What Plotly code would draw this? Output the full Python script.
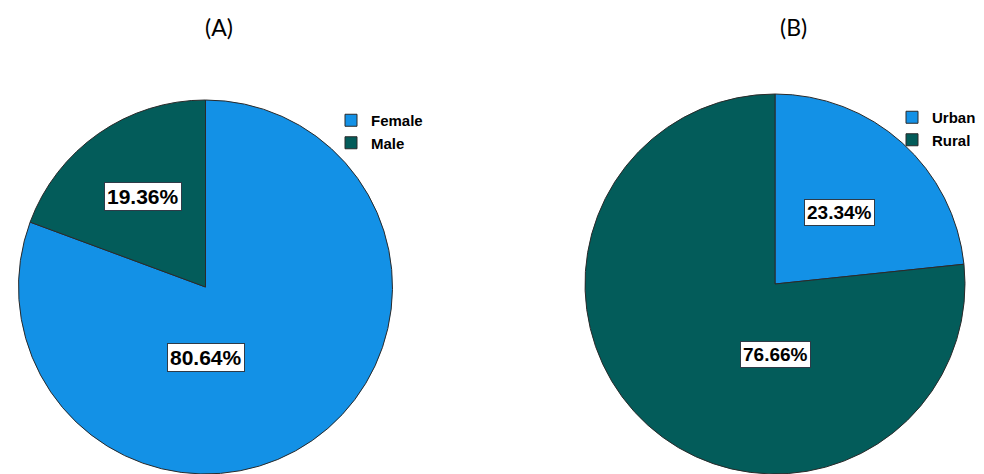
import math
import plotly.graph_objects as go

# ---- data ----
gender_labels = ["Female", "Male"]
gender_values = [80.64, 19.36]
area_labels = ["Urban", "Rural"]
area_values = [23.34, 76.66]
panel_titles = ["(A)", "(B)"]

BLUE = "#1391E6"
TEAL = "#035C5A"
W, H = 984, 474

# pie geometry (pixels)
D = 380
cA = (205.5, 287.0)
cB = (775.0, 284.0)


def dom(c):
    x0 = (c[0] - D / 2) / W
    x1 = (c[0] + D / 2) / W
    yb = H - c[1]
    y0 = max(0.0, (yb - D / 2) / H)
    y1 = (yb + D / 2) / H
    if y0 == 0.0:
        y1 = (2 * yb) / H
    return dict(x=[x0, x1], y=[y0, y1])


fig = go.Figure()
fig.add_trace(go.Pie(
    labels=gender_labels, values=gender_values, sort=False, direction="clockwise",
    rotation=0, marker=dict(colors=[BLUE, TEAL], line=dict(color="#2a2a2a", width=1)),
    textinfo="none", hoverinfo="label+percent", domain=dom(cA), legend="legend",
))
fig.add_trace(go.Pie(
    labels=area_labels, values=area_values, sort=False, direction="clockwise",
    rotation=0, marker=dict(colors=[BLUE, TEAL], line=dict(color="#2a2a2a", width=1)),
    textinfo="none", hoverinfo="label+percent", domain=dom(cB), legend="legend2",
))


def label_annotations(values, center, fsize, rfrac):
    anns = []
    total = sum(values)
    start = 0.0
    R = D / 2
    for v in values:
        frac = v / total
        if frac < 0.5:
            ang = (start + frac / 2) * 2 * math.pi
            r = rfrac * R
            px = center[0] + r * math.sin(ang)
            py = center[1] - r * math.cos(ang)
        else:
            px = center[0]
            py = center[1] + 0.37 * R
        anns.append(dict(
            x=px / W, y=1 - py / H, xref="paper", yref="paper",
            text=f"{v:.2f}%", showarrow=False,
            font=dict(family="Liberation Sans", size=fsize, color="black", weight="bold"),
            bgcolor="white", bordercolor="#2e3b48", borderwidth=1, borderpad=2,
            xanchor="center", yanchor="middle",
        ))
        start += frac
    return anns


annotations = []
annotations += label_annotations(gender_values, cA, 21, 0.58)
annotations += label_annotations(area_values, cB, 19, 0.51)
for t, xc in zip(panel_titles, [218.5, 793.5]):
    annotations.append(dict(
        x=xc / W, y=1 - 27 / H, xref="paper", yref="paper", text=t, showarrow=False,
        font=dict(family="Lato", size=23, color="black"), xanchor="center", yanchor="middle",
    ))

legend_font = dict(family="Liberation Sans", size=15, color="black", weight="bold")
fig.update_layout(
    width=W, height=H,
    margin=dict(l=0, r=0, t=0, b=0, autoexpand=False),
    paper_bgcolor="white", plot_bgcolor="white",
    annotations=annotations,
    legend=dict(x=331 / W, y=1 - 104 / H, xanchor="left", yanchor="top",
                font=legend_font, bgcolor="rgba(0,0,0,0)", itemwidth=30,
                tracegroupgap=0),
    legend2=dict(x=892 / W, y=1 - 101 / H, xanchor="left", yanchor="top",
                 font=legend_font, bgcolor="rgba(0,0,0,0)", itemwidth=30,
                 tracegroupgap=0),
)

fig.write_html(
    "out.html",
    config={"displayModeBar": False},
    post_script="document.body.style.margin='0';document.body.style.overflow='hidden';",
)
